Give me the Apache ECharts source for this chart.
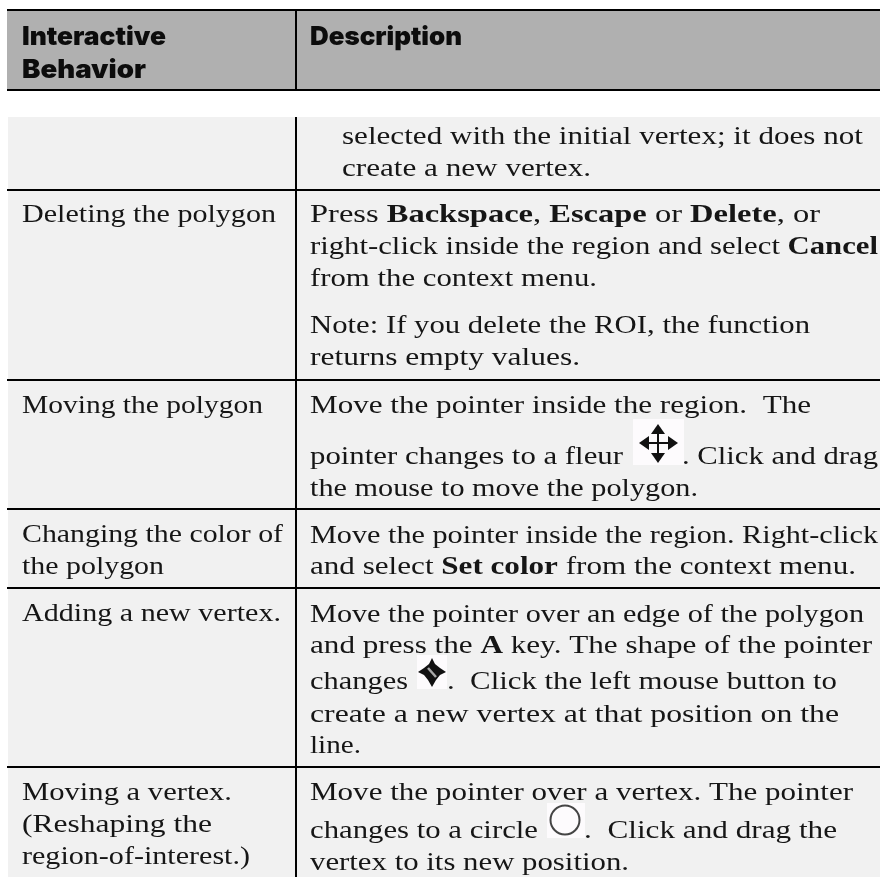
<!DOCTYPE html>
<html>
<head>
<meta charset="utf-8">
<style>
  html, body { margin: 0; padding: 0; background: #fff; }
  #main { width: 880px; height: 877px; }
</style>
</head>
<body>
<div id="main"></div>
<script src="https://cdn.jsdelivr.net/npm/echarts@6/dist/echarts.min.js"></script>
<script>
// table text
const headerLeft = ['Interactive', 'Behavior'];
const headerRight = ['Description'];
const behaviorLines = [
  'Deleting the polygon',
  'Moving the polygon',
  'Changing the color of',
  'the polygon',
  'Adding a new vertex.',
  'Moving a vertex.',
  '(Reshaping the',
  'region-of-interest.)'
];
const descriptionLines = [
  'selected with the initial vertex; it does not',
  'create a new vertex.',
  'Press {b|Backspace}, {b|Escape} or {b|Delete}, or',
  'right-click inside the region and select {b|Cancel}',
  'from the context menu.',
  'Note: If you delete the ROI, the function',
  'returns empty values.',
  'Move the pointer inside the region.  The',
  'pointer changes to a fleur',
  '. Click and drag',
  'the mouse to move the polygon.',
  'Move the pointer inside the region. Right-click',
  'and select {b|Set color} from the context menu.',
  'Move the pointer over an edge of the polygon',
  'and press the {b|A} key. The shape of the pointer',
  'changes',
  '.  Click the left mouse button to',
  'create a new vertex at that position on the',
  'line.',
  'Move the pointer over a vertex. The pointer',
  'changes to a circle',
  '.  Click and drag the',
  'vertex to its new position.'
];

// layout, separate from the text: [x, baseline, right end of the line]
const headerLeftPos = [[22, 44, 166], [22, 77, 146]];
const headerRightPos = [[310, 44, 462]];
const behaviorPos = [
  [22, 222, 276], [22, 413, 263], [22, 542, 283], [22, 574, 164],
  [22, 621, 281], [22, 800, 232], [22, 832, 212], [22, 864, 250]
];
const descriptionPos = [
  [342, 144, 863], [342, 176, 591],
  [310, 222, 820], [310, 254, 878], [310, 286, 597], [310, 333, 810], [310, 365, 580],
  [310, 413, 811], [310, 464, 623], [682, 464, 878], [310, 496, 698],
  [310, 543, 878], [310, 574, 856],
  [310, 622, 864], [310, 653, 872], [310, 689, 408], [447, 689, 837], [310, 722, 839], [310, 753, 361],
  [310, 800, 853], [310, 838, 538], [584, 838, 837], [310, 870, 629]
];
const ruleYs = [90, 190, 380, 509, 588, 767];

const serif = 'Liberation Serif';
const serifSize = 26;
const headSize = 26;
const textColor = '#161616';

let graphics = [];

const rect = (x, y, w, h, fill) => graphics.push({
  type: 'rect', shape: { x: x, y: y, width: w, height: h }, style: { fill: fill }, silent: true
});
const poly = (points, fill) => graphics.push({
  type: 'polygon', shape: { points: points }, style: { fill: fill }, silent: true
});

// line width before stretching, bold runs measured on their own
const measureCtx = document.createElement('canvas').getContext('2d');
const measure = (str) => {
  let total = 0;
  str.split(/(\{b\|[^}]*\})/).forEach(part => {
    if (part.startsWith('{b|')) {
      measureCtx.font = 'bold ' + serifSize + 'px "' + serif + '"';
      total += measureCtx.measureText(part.slice(3, -1)).width;
    } else {
      measureCtx.font = serifSize + 'px "' + serif + '"';
      total += measureCtx.measureText(part).width;
    }
  });
  return total;
};

// bands
rect(7, 11, 873, 78, '#b0b0b0');
rect(8, 117, 872, 760, '#f1f1f1');

// rules
rect(7, 9, 873, 2, '#000');
ruleYs.forEach(y => rect(7, y - 1, 873, 2, '#000'));
rect(295, 10, 2, 80, '#000');
rect(295, 117, 2, 760, '#000');

const bodyText = (str, pos) => graphics.push({
  type: 'text',
  x: pos[0],
  y: pos[1] - serifSize * 0.27,
  scaleX: (pos[2] - pos[0]) / measure(str),
  silent: true,
  style: {
    text: str,
    fontFamily: serif,
    fontSize: serifSize,
    fill: textColor,
    verticalAlign: 'middle',
    rich: { b: { fontFamily: serif, fontSize: serifSize, fontWeight: 'bold', fill: textColor } }
  }
});
const headText = (str, pos) => {
  measureCtx.font = '900 ' + headSize + 'px Inter';
  graphics.push({
    type: 'text',
    x: pos[0],
    y: pos[1] - headSize * 0.28,
    scaleX: (pos[2] - pos[0]) / measureCtx.measureText(str).width,
    silent: true,
    style: {
      text: str, fontFamily: 'Inter', fontWeight: 900, fontSize: headSize, fill: '#0c0c0c',
      verticalAlign: 'middle'
    }
  });
};

headerLeft.forEach((s, i) => headText(s, headerLeftPos[i]));
headerRight.forEach((s, i) => headText(s, headerRightPos[i]));
behaviorLines.forEach((s, i) => bodyText(s, behaviorPos[i]));

// cursor icons
// fleur
rect(633, 419, 51, 46, '#fdfbfd');
rect(657, 431, 2, 25, '#111');
rect(645, 442, 26, 2, '#111');
poly([[658, 424], [651, 434], [665, 434]], '#111');
poly([[658, 463], [651, 453], [665, 453]], '#111');
poly([[639, 443], [649, 436], [649, 450]], '#111');
poly([[678, 443], [668, 436], [668, 450]], '#111');
// vertex cursor
rect(417, 655, 30, 34, '#fdfbfd');
poly([[432, 658], [435, 664], [440, 668], [446, 672], [440, 675], [436, 680], [432, 687], [428, 680], [424, 675], [418, 672], [424, 668], [429, 664]], '#111');
graphics.push({
  type: 'line', shape: { x1: 428, y1: 668, x2: 436, y2: 677 },
  style: { stroke: '#a8a8a8', lineWidth: 2.5 }, silent: true
});
// circle
rect(547, 803, 38, 35, '#fdfbfd');
graphics.push({
  type: 'circle', shape: { cx: 565, cy: 820, r: 14.5 },
  style: { fill: 'none', stroke: '#444', lineWidth: 2 }, silent: true
});

descriptionLines.forEach((s, i) => bodyText(s, descriptionPos[i]));

let mychart = echarts.init(document.getElementById('main'), null, { renderer: 'canvas' });
mychart.setOption({
  backgroundColor: '#ffffff',
  animation: false,
  graphic: { elements: graphics }
});
</script>
</body>
</html>
